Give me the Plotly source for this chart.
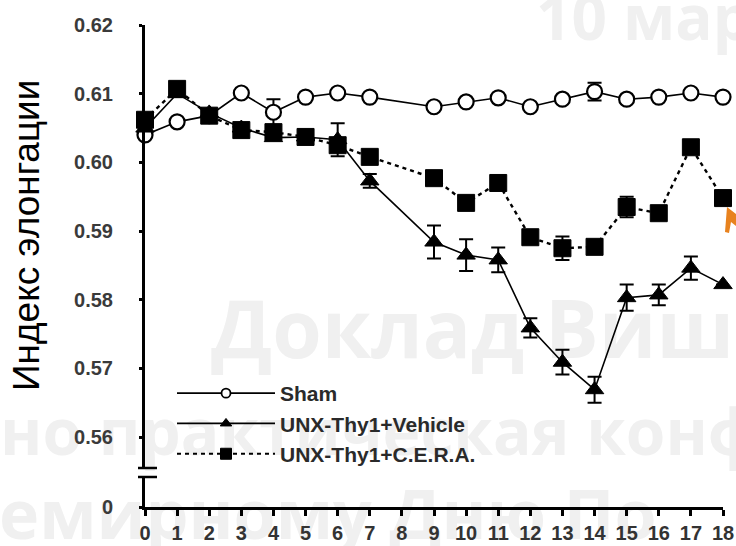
import plotly.graph_objects as go

# ---- data ----
days = [0, 1, 2, 3, 4, 5, 6, 7, 9, 10, 11, 12, 13, 14, 15, 16, 17, 18]
x_ticks = list(range(0, 19))

sham = [0.6040, 0.6059, 0.6068, 0.6101, 0.6073, 0.6095, 0.6101, 0.6095, 0.6081,
        0.6088, 0.6094, 0.6081, 0.6092, 0.6103, 0.6092, 0.6095, 0.6101, 0.6095]
sham_err = [0, 0, 0, 0, 0.0019, 0, 0, 0, 0, 0, 0, 0, 0, 0.0013, 0, 0, 0, 0]

vehicle = [0.6050, 0.6100, 0.6072, 0.6050, 0.6036, 0.6037, 0.6033, 0.5973, 0.5884,
           0.5865, 0.5858, 0.5759, 0.5709, 0.5669, 0.5803, 0.5807, 0.5846, 0.5822]
vehicle_err = [0, 0, 0, 0, 0, 0, 0.0024, 0.0010, 0.0024, 0.0023, 0.0018, 0.0014,
               0.0018, 0.0019, 0.0019, 0.0015, 0.0017, 0]

cera = [0.6062, 0.6107, 0.6068, 0.6047, 0.6044, 0.6037, 0.6025, 0.6008, 0.5977,
        0.5941, 0.5970, 0.5891, 0.5875, 0.5877, 0.5935, 0.5926, 0.6022, 0.5948]
cera_err = [0, 0, 0, 0, 0, 0, 0, 0, 0, 0, 0, 0, 0.0017, 0, 0.0015, 0, 0, 0]

y_ticks = [0.56, 0.57, 0.58, 0.59, 0.60, 0.61, 0.62]
y_ticklabels = ["0.56", "0.57", "0.58", "0.59", "0.60", "0.61", "0.62"]

names = ["Sham", "UNX-Thy1+Vehicle", "UNX-Thy1+C.E.R.A."]
y_title = "Индекс элонгации"
watermarks = ["10 мар", "Доклад Виш", "но практическая конф", "емирному Дню По"]

# ---- geometry ----
W, H = 736, 546
L, R, T, B = 145, 13, 25, 39
PW, PH = W - L - R, H - T - B


def px(x):
    return (x - L) / PW


def py(y):
    return (H - B - y) / PH


tick_font = dict(family="Liberation Sans, Arial", size=20, color="#3a3a3a", weight="bold")
leg_font = dict(family="Liberation Sans, Arial", size=21, color="#2a2a2a", weight="bold")

fig = go.Figure()

err_style = dict(type="data", visible=True, color="black", thickness=2, width=7)

styles = [
    dict(line=dict(color="black", width=1.6),
         marker=dict(symbol="circle", size=15, color="white", line=dict(color="black", width=2.2)),
         leg_marker=dict(symbol="circle", size=9, color="white", line=dict(color="black", width=1.8))),
    dict(line=dict(color="black", width=1.6),
         marker=dict(symbol="triangle-up", size=16, color="black", line=dict(color="black", width=1)),
         leg_marker=dict(symbol="triangle-up", size=10, color="black", line=dict(color="black", width=1))),
    dict(line=dict(color="black", width=2.4, dash="4px,4px"),
         marker=dict(symbol="square", size=17, color="black", line=dict(color="black", width=1)),
         leg_marker=dict(symbol="square", size=11, color="black", line=dict(color="black", width=1))),
]
series = [(sham, sham_err), (vehicle, vehicle_err), (cera, cera_err)]

for i, (vals, errs) in enumerate(series):
    st = styles[i]
    fig.add_trace(go.Scatter(
        x=days, y=vals, name=names[i], mode="lines+markers", legendgroup=names[i],
        showlegend=False, line=st["line"], marker=st["marker"],
        error_y=dict(array=errs, **err_style), cliponaxis=False,
    ))

# legend-only entries (smaller symbols, as in the reference legend)
for i in range(3):
    st = styles[i]
    leg_line = dict(st["line"])
    leg_line["width"] = 1.8
    fig.add_trace(go.Scatter(
        x=[None], y=[None], name=names[i], mode="lines+markers", legendgroup=names[i],
        showlegend=True, line=leg_line, marker=st["leg_marker"], hoverinfo="skip",
    ))

# hidden trace on lower axis segment (keeps it displayed)
fig.add_trace(go.Scatter(x=[None], y=[None], yaxis="y2", showlegend=False, hoverinfo="skip"))

upper_bottom = py(468)
lower_top = py(477)

fig.update_layout(
    width=W, height=H,
    margin=dict(l=L, r=R, t=T, b=B, pad=0, autoexpand=False),
    paper_bgcolor="white", plot_bgcolor="rgba(0,0,0,0)",
    showlegend=True,
    legend=dict(
        x=px(172), y=py(373), xanchor="left", yanchor="top",
        bgcolor="rgba(0,0,0,0)", font=leg_font, tracegroupgap=0,
        itemwidth=98,
    ),
    xaxis=dict(
        range=[0, 18], anchor="y2", tickmode="array", tickvals=x_ticks,
        ticktext=[str(v) for v in x_ticks], automargin=False,
        showgrid=False, zeroline=False, showline=True, linecolor="black", linewidth=3,
        ticks="outside", ticklen=6, tickwidth=2.5, tickcolor="black",
        tickfont=dict(family="Liberation Sans, Arial", size=20, color="#333333", weight="bold"),
    ),
    yaxis=dict(
        domain=[upper_bottom, 1], range=[0.5555, 0.62], anchor="x", automargin=False,
        tickmode="array", tickvals=y_ticks, ticktext=y_ticklabels,
        showgrid=False, zeroline=False, showline=True, linecolor="black", linewidth=3,
        ticks="outside", ticklen=3, tickwidth=3, tickcolor="black",
        tickfont=tick_font, ticklabelstandoff=22,
    ),
    yaxis2=dict(
        domain=[0, lower_top], range=[0, 0.0044], anchor="x", automargin=False,
        tickmode="array", tickvals=[0], ticktext=["0"],
        showgrid=False, zeroline=False, showline=True, linecolor="black", linewidth=3,
        ticks="outside", ticklen=3, tickwidth=3, tickcolor="black",
        tickfont=tick_font, ticklabelstandoff=22,
    ),
)

# axis-break marks
for yy in (468, 477):
    fig.add_shape(type="line", xref="paper", yref="paper",
                  x0=px(138), x1=px(157), y0=py(yy), y1=py(yy),
                  line=dict(color="black", width=2.5))

# y-axis title
fig.add_annotation(text=y_title, textangle=-90, xref="paper", yref="paper",
                   x=px(26), y=py(236), xanchor="center", yanchor="middle",
                   showarrow=False,
                   font=dict(family="Liberation Sans, Arial", size=37, color="black"))

# background watermark texts (drawn below the data)
wm_color = "#f0f0f0"
# (text, left px, top px, box height px, font size)
wm_specs = [
    (watermarks[0], 533, -20, 80, 62),
    (watermarks[1], 208, 277, 110, 80),
    (watermarks[2], -3, 389, 90, 64),
    (watermarks[3], -4, 467, 100, 68),
]
for text, x0, y0, hh, fs in wm_specs:
    fig.add_shape(type="rect", xref="paper", yref="paper",
                  x0=px(x0), x1=px(x0 + 1200), y0=py(y0 + hh), y1=py(y0),
                  line=dict(width=0), fillcolor="rgba(0,0,0,0)", layer="below",
                  label=dict(text=text, textposition="middle left", padding=0,
                             font=dict(family="Open Sans, Noto Sans", size=fs,
                                       color=wm_color, weight="bold")))

# orange arrow fragment at right edge
fig.add_shape(type="path", xref="paper", yref="paper",
              path=f"M {px(736)},{py(214)} L {px(727)},{py(207)} L {px(725)},{py(232)} "
                   f"L {px(729)},{py(233)} L {px(731)},{py(222)} L {px(736)},{py(226)} Z",
              fillcolor="#e8821e", line=dict(width=0))

fig.write_html("out.html")
